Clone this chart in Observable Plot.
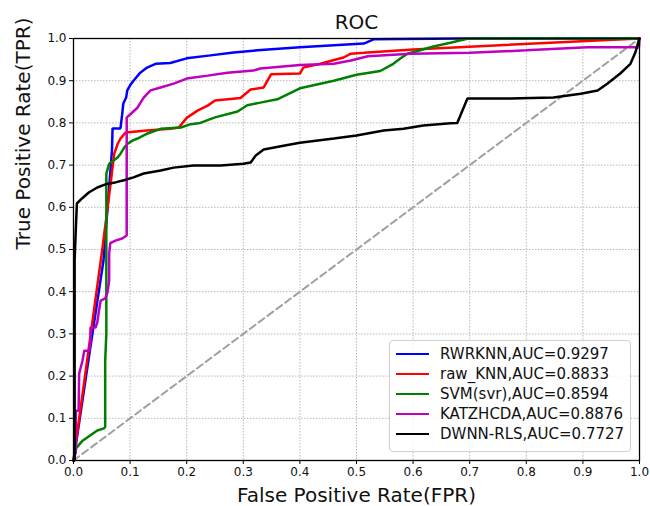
<!DOCTYPE html>
<html>
<head>
<meta charset="utf-8">
<script src="https://cdn.jsdelivr.net/npm/d3@7"></script>
<script src="https://cdn.jsdelivr.net/npm/@observablehq/plot@0.6"></script>
<style>
  html, body { margin: 0; padding: 0; background: #fff; }
  #wrap { position: relative; width: 650px; height: 506px; font-family: "DejaVu Sans", sans-serif; }
  #legend { position: absolute; left: 389px; top: 340px; width: 242px; height: 112px; box-sizing: border-box;
    border: 1px solid #d0d0d0; border-radius: 4px; background: rgba(255,255,255,0.85); }
  .row { position: absolute; left: 0; height: 20px; display: flex; align-items: center; }
  .sw { position: absolute; left: 6px; width: 33px; height: 0; border-top-width: 2.5px; border-top-style: solid; }
  .lab { position: absolute; left: 50px; white-space: nowrap; font-size: 15px; color: #111; line-height: 20px; }
</style>
</head>
<body>
<div id="wrap"></div>
<script>
// ---- data ----
const rwrknnFPR = [0, 0.03, 0.053, 0.068, 0.069, 0.083, 0.086, 0.088, 0.093, 0.095, 0.10, 0.106, 0.118, 0.13, 0.145, 0.171, 0.20, 0.242, 0.283, 0.325, 0.40, 0.513, 0.53, 0.684, 1.0];
const rwrknnTPR = [0, 0.27, 0.474, 0.735, 0.787, 0.787, 0.82, 0.846, 0.86, 0.877, 0.889, 0.90, 0.919, 0.931, 0.94, 0.942, 0.953, 0.96, 0.967, 0.972, 0.979, 0.988, 0.998, 1.0, 1.0];

const rawknnFPR = [0, 0.051, 0.065, 0.072, 0.078, 0.083, 0.092, 0.13, 0.171, 0.186, 0.20, 0.219, 0.237, 0.250, 0.295, 0.313, 0.336, 0.349, 0.40, 0.406, 0.436, 0.477, 0.49, 0.513, 0.6, 1.0];
const rawknnTPR = [0, 0.502, 0.65, 0.727, 0.75, 0.763, 0.777, 0.782, 0.786, 0.789, 0.812, 0.829, 0.841, 0.853, 0.859, 0.879, 0.884, 0.915, 0.917, 0.931, 0.94, 0.955, 0.964, 0.966, 0.974, 1.0];

const svmFPR = [0, 0.005, 0.016, 0.03, 0.042, 0.054, 0.056, 0.056, 0.058, 0.058, 0.063, 0.078, 0.083, 0.09, 0.095, 0.104, 0.113, 0.131, 0.154, 0.19, 0.207, 0.224, 0.25, 0.29, 0.307, 0.33, 0.36, 0.40, 0.46, 0.50, 0.542, 0.565, 0.578, 0.59, 0.636, 0.666, 0.684, 0.698, 1.0];
const svmTPR = [0, 0.03, 0.047, 0.06, 0.071, 0.076, 0.08, 0.237, 0.30, 0.68, 0.703, 0.718, 0.727, 0.742, 0.75, 0.758, 0.763, 0.775, 0.786, 0.789, 0.797, 0.80, 0.813, 0.827, 0.842, 0.848, 0.856, 0.882, 0.90, 0.914, 0.923, 0.94, 0.953, 0.964, 0.981, 0.99, 0.996, 1.0, 1.0];

const katzFPR = [0, 0.004, 0.004, 0.009, 0.01, 0.016, 0.019, 0.028, 0.03, 0.03, 0.039, 0.042, 0.045, 0.048, 0.056, 0.06, 0.063, 0.063, 0.065, 0.074, 0.086, 0.094, 0.094, 0.10, 0.113, 0.124, 0.136, 0.154, 0.177, 0.20, 0.237, 0.272, 0.318, 0.33, 0.40, 0.46, 0.49, 0.52, 0.595, 0.70, 0.80, 0.908, 0.999, 1.0];
const katzTPR = [0, 0.02, 0.118, 0.118, 0.206, 0.237, 0.26, 0.26, 0.284, 0.315, 0.315, 0.327, 0.355, 0.379, 0.384, 0.398, 0.427, 0.49, 0.515, 0.521, 0.526, 0.533, 0.813, 0.82, 0.836, 0.86, 0.877, 0.884, 0.893, 0.905, 0.912, 0.919, 0.924, 0.929, 0.937, 0.94, 0.948, 0.958, 0.964, 0.966, 0.972, 0.979, 0.979, 1.0];

const dwnnFPR = [0, 0.002, 0.002, 0.004, 0.006, 0.015, 0.027, 0.042, 0.06, 0.074, 0.089, 0.106, 0.124, 0.154, 0.177, 0.212, 0.26, 0.30, 0.313, 0.322, 0.336, 0.371, 0.40, 0.46, 0.50, 0.548, 0.583, 0.618, 0.666, 0.678, 0.687, 0.696, 0.772, 0.848, 0.896, 0.926, 0.943, 0.966, 0.984, 0.993, 0.998, 1.0];
const dwnnTPR = [0, 0.0, 0.474, 0.545, 0.609, 0.621, 0.635, 0.647, 0.656, 0.659, 0.664, 0.671, 0.68, 0.687, 0.694, 0.699, 0.699, 0.703, 0.706, 0.723, 0.737, 0.746, 0.753, 0.763, 0.77, 0.782, 0.786, 0.794, 0.799, 0.80, 0.829, 0.858, 0.858, 0.86, 0.869, 0.877, 0.893, 0.917, 0.94, 0.968, 0.992, 1.0];

const seriesNames = ["RWRKNN,AUC=0.9297", "raw_KNN,AUC=0.8833", "SVM(svr),AUC=0.8594", "KATZHCDA,AUC=0.8876", "DWNN-RLS,AUC=0.7727"];
const seriesColors = ["#0000ff", "#ff0000", "#008000", "#bf00bf", "#000000"];
const tickValues = [0, 0.1, 0.2, 0.3, 0.4, 0.5, 0.6, 0.7, 0.8, 0.9, 1.0];
const diagFPR = [0, 1];
const diagTPR = [0, 1];

// ---- build ----
const allSeries = [
  [rwrknnFPR, rwrknnTPR],
  [rawknnFPR, rawknnTPR],
  [svmFPR, svmTPR],
  [katzFPR, katzTPR],
  [dwnnFPR, dwnnTPR]
];
const tidy = allSeries.map(([xs, ys], i) => xs.map((x, j) => ({x, y: ys[j], s: i})));
const diag = diagFPR.map((x, i) => ({x, y: diagTPR[i]}));
const fmt = d => d.toFixed(1);

const chart = Plot.plot({
  width: 650,
  height: 506,
  marginLeft: 73,
  marginRight: 11,
  marginTop: 38,
  marginBottom: 46,
  style: {fontFamily: "DejaVu Sans, sans-serif", background: "#fff", color: "#111"},
  x: {domain: [0, 1]},
  y: {domain: [0, 1]},
  marks: [
    Plot.gridX(tickValues, {stroke: "#b8b8b8", strokeOpacity: 1, strokeDasharray: "1.5,1.5", strokeWidth: 1}),
    Plot.gridY(tickValues, {stroke: "#b8b8b8", strokeOpacity: 1, strokeDasharray: "1.5,1.5", strokeWidth: 1}),
    Plot.line(diag, {x: "x", y: "y", stroke: "#a0a0a0", strokeWidth: 2, strokeDasharray: "7,4"}),
    ...tidy.map((d, i) => Plot.line(d, {x: "x", y: "y", stroke: seriesColors[i], strokeWidth: 2.5, strokeLinejoin: "miter"})),
    Plot.frame({stroke: "#000", strokeWidth: 1.3}),
    Plot.axisX({ticks: tickValues, tickFormat: fmt, tickSize: 4, tickPadding: 3, fontSize: 12, label: null, stroke: "#000"}),
    Plot.axisY({ticks: tickValues, tickFormat: fmt, tickSize: 4, tickPadding: 3, fontSize: 12, label: null, stroke: "#000"}),
    Plot.text(["ROC"], {frameAnchor: "top", lineAnchor: "middle", dy: -16, fontSize: 20, fill: "#111"}),
    Plot.text(["False Positive Rate(FPR)"], {frameAnchor: "bottom", lineAnchor: "middle", dy: 35, fontSize: 20, fill: "#111"}),
    Plot.text(["True Positive Rate(TPR)"], {frameAnchor: "left", lineAnchor: "middle", dx: -50, rotate: -90, fontSize: 20, fill: "#111"})
  ]
});

const wrap = document.getElementById("wrap");
wrap.appendChild(chart);

const legend = document.createElement("div");
legend.id = "legend";
seriesNames.forEach((name, i) => {
  const row = document.createElement("div");
  row.className = "row";
  row.style.top = (3 + i * 20) + "px";
  const sw = document.createElement("div");
  sw.className = "sw";
  sw.style.borderTopColor = seriesColors[i];
  sw.style.top = "9px";
  const lab = document.createElement("div");
  lab.className = "lab";
  lab.style.top = "0px";
  lab.textContent = name;
  row.appendChild(sw);
  row.appendChild(lab);
  legend.appendChild(row);
});
wrap.appendChild(legend);
</script>
</body>
</html>
